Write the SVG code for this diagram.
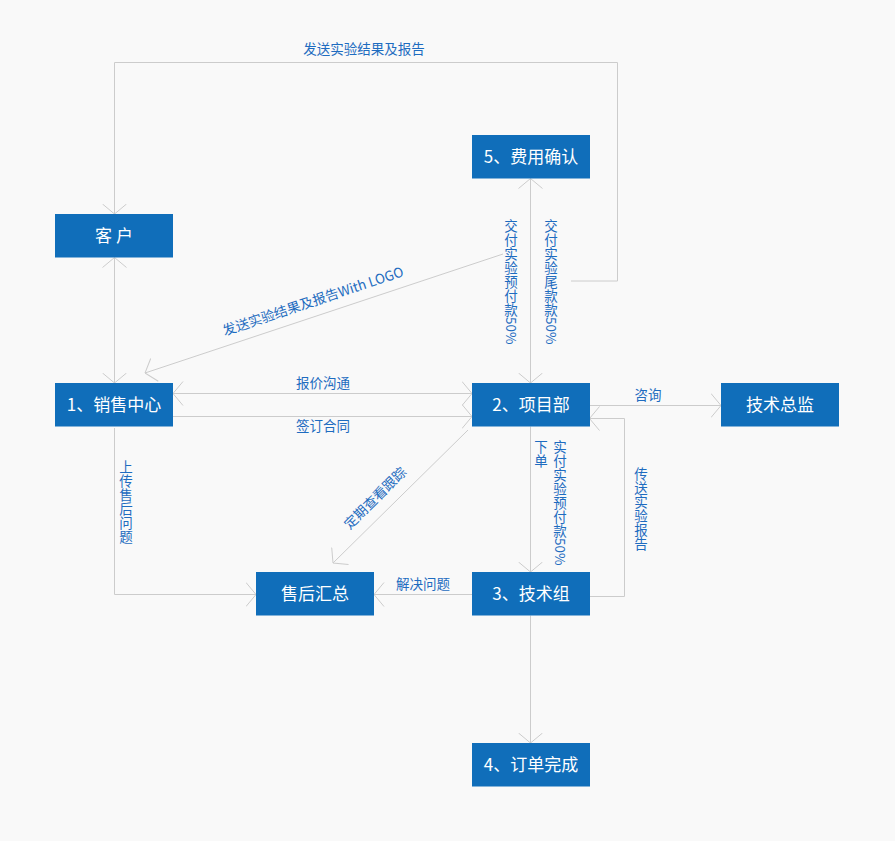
<svg xmlns="http://www.w3.org/2000/svg" width="895" height="841" viewBox="0 0 895 841">
<defs>
<style>
.node rect{fill:#106eba;}
.node text{fill:#ffffff;font-family:"Noto Sans CJK SC","Noto Sans",sans-serif;font-size:17px;text-anchor:middle;}
.conn line,.conn polyline{stroke:#cccccc;stroke-width:1;fill:none;}
.lbl{fill:#1e6cc0;font-family:"Noto Sans CJK SC","Noto Sans",sans-serif;font-size:13.5px;text-anchor:middle;}
.vs{fill:#1e6cc0;font-family:"Noto Sans CJK SC","Noto Sans",sans-serif;font-size:13.5px;text-anchor:start;}
</style>
<marker id="arr" viewBox="0 0 11 26" refX="10.5" refY="13" markerWidth="11" markerHeight="26" markerUnits="userSpaceOnUse" orient="auto-start-reverse">
<path d="M0.5,1 L10.5,13 L0.5,25" fill="none" stroke="#cccccc" stroke-width="1"/>
</marker>
</defs>
<rect width="895" height="841" fill="#f9f9f9"/>
<g id="connectors" class="conn">
<polyline points="571,281 617.5,281 617.5,62.5 114.5,62.5 114.5,214" marker-end="url(#arr)"/>
<line x1="530.5" y1="178.5" x2="530.5" y2="383" marker-start="url(#arr)" marker-end="url(#arr)"/>
<line x1="503" y1="254" x2="145" y2="373" marker-end="url(#arr)"/>
<line x1="114.5" y1="257.5" x2="114.5" y2="383" marker-start="url(#arr)" marker-end="url(#arr)"/>
<line x1="173" y1="393.5" x2="472" y2="393.5" marker-start="url(#arr)" marker-end="url(#arr)"/>
<line x1="173" y1="416.5" x2="472" y2="416.5" marker-end="url(#arr)"/>
<polyline points="114.5,428 114.5,594.5 256,594.5" marker-end="url(#arr)"/>
<line x1="468" y1="430" x2="333" y2="563" marker-end="url(#arr)"/>
<line x1="472" y1="594.5" x2="374" y2="594.5" marker-end="url(#arr)"/>
<line x1="530.5" y1="426.5" x2="530.5" y2="572" marker-end="url(#arr)"/>
<line x1="589.5" y1="405.5" x2="721" y2="405.5" marker-end="url(#arr)"/>
<polyline points="589.5,596.5 624.5,596.5 624.5,418.5 589.5,418.5" marker-end="url(#arr)"/>
<line x1="530.5" y1="615.5" x2="530.5" y2="743" marker-end="url(#arr)"/>
</g>
<g id="labels">
<text class="lbl" x="364" y="54">发送实验结果及报告</text>
<text class="lbl" transform="translate(313,301) rotate(-18.4)" x="0" y="5">发送实验结果及报告With LOGO</text>
<g id="lbl-yufu">
<text class="lbl"><tspan x="511" y="230.5">交</tspan><tspan x="511" y="244.5">付</tspan><tspan x="511" y="258.5">实</tspan><tspan x="511" y="272.5">验</tspan><tspan x="511" y="286.5">预</tspan><tspan x="511" y="300.5">付</tspan><tspan x="511" y="314.5">款</tspan></text>
<text class="vs" transform="translate(511,317) rotate(90)" x="0" y="4.8">50%</text>
</g>
<g id="lbl-weikuan">
<text class="lbl"><tspan x="551" y="230.5">交</tspan><tspan x="551" y="244.5">付</tspan><tspan x="551" y="258.5">实</tspan><tspan x="551" y="272.5">验</tspan><tspan x="551" y="286.5">尾</tspan><tspan x="551" y="300.5">款</tspan><tspan x="551" y="314.5">款</tspan></text>
<text class="vs" transform="translate(551,317) rotate(90)" x="0" y="4.8">50%</text>
</g>
<text class="lbl" x="323" y="388">报价沟通</text>
<text class="lbl" x="323" y="431">签订合同</text>
<text class="lbl" id="lbl-shangchuan"><tspan x="126" y="471.5">上</tspan><tspan x="126" y="485.5">传</tspan><tspan x="126" y="499.5">售</tspan><tspan x="126" y="513.5">后</tspan><tspan x="126" y="527.5">问</tspan><tspan x="126" y="541.5">题</tspan></text>
<text class="lbl" transform="translate(375,498) rotate(-44.6)" x="0" y="5">定期查看跟踪</text>
<text class="lbl" x="423" y="589">解决问题</text>
<text class="lbl" x="648" y="400">咨询</text>
<text class="lbl" id="lbl-xiadan"><tspan x="541" y="451.5">下</tspan><tspan x="541" y="465.5">单</tspan></text>
<g id="lbl-shifu">
<text class="lbl"><tspan x="560" y="451.5">实</tspan><tspan x="560" y="465.5">付</tspan><tspan x="560" y="479.5">实</tspan><tspan x="560" y="493.5">验</tspan><tspan x="560" y="507.5">预</tspan><tspan x="560" y="521.5">付</tspan><tspan x="560" y="535.5">款</tspan></text>
<text class="vs" transform="translate(560,538) rotate(90)" x="0" y="4.8">50%</text>
</g>
<text class="lbl" id="lbl-chuansong"><tspan x="641" y="478.5">传</tspan><tspan x="641" y="492.5">送</tspan><tspan x="641" y="506.5">实</tspan><tspan x="641" y="520.5">验</tspan><tspan x="641" y="534.5">报</tspan><tspan x="641" y="548.5">告</tspan></text>
</g>
<g id="node-kehu" class="node"><rect x="55" y="214" width="118" height="43.5"/><text x="114" y="242">客 户</text></g>
<g id="node-5" class="node"><rect x="472" y="135" width="118" height="43.5"/><text x="531" y="163">5、费用确认</text></g>
<g id="node-1" class="node"><rect x="55" y="383" width="118" height="43.5"/><text x="114" y="411">1、销售中心</text></g>
<g id="node-2" class="node"><rect x="472" y="383" width="118" height="43.5"/><text x="531" y="411">2、项目部</text></g>
<g id="node-jszj" class="node"><rect x="721" y="383" width="118" height="43.5"/><text x="780" y="411">技术总监</text></g>
<g id="node-shhz" class="node"><rect x="256" y="572" width="118" height="43.5"/><text x="315" y="600">售后汇总</text></g>
<g id="node-3" class="node"><rect x="472" y="572" width="118" height="43.5"/><text x="531" y="600">3、技术组</text></g>
<g id="node-4" class="node"><rect x="472" y="743" width="118" height="43.5"/><text x="531" y="771">4、订单完成</text></g>
</svg>
